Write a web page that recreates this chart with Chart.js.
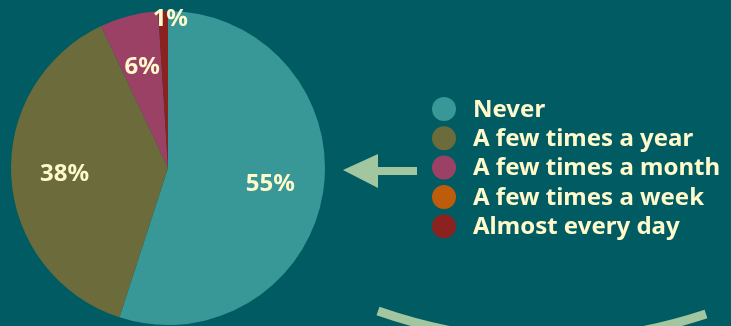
<!DOCTYPE html>
<html>
<head>
<meta charset="utf-8">
<script src="https://cdn.jsdelivr.net/npm/chart.js@4"></script>
<style>
html, body { margin: 0; padding: 0; background: #005c62; overflow: hidden; }
#wrap { width: 731px; height: 326px; }
</style>
</head>
<body>
<div id="wrap"><canvas id="myChart" width="731" height="326"></canvas></div>
<script>
// how often - pie
var labels = ["Never", "A few times a year", "A few times a month", "A few times a week", "Almost every day"];
var values = [55, 38, 6, 0, 1];
var pctLabels = ["55%", "38%", "6%", "", "1%"];
var sliceColors = ["#389797", "#6b6b3b", "#9b4166", "#bf5c0b", "#8c221f"];

var cream = "#fff9cc";
var sage = "#a2c7a0";
var fontFam = "'Noto Sans', sans-serif";

// percent labels on the slices
var sliceLabels = {
  id: "sliceLabels",
  afterDatasetsDraw: function (chart) {
    var ctx = chart.ctx;
    var meta = chart.getDatasetMeta(0);
    ctx.save();
    ctx.fillStyle = cream;
    ctx.font = "bold 24px " + fontFam;
    ctx.textAlign = "center";
    ctx.textBaseline = "middle";
    meta.data.forEach(function (arc, i) {
      if (!pctLabels[i]) return;
      var p = arc.getProps(["x", "y", "startAngle", "endAngle", "outerRadius"], true);
      var mid = (p.startAngle + p.endAngle) / 2;
      var r = p.outerRadius * 0.66;
      var dx = 0;
      if (values[i] < 3) { r = p.outerRadius * 0.95; dx = 7; }
      ctx.fillText(pctLabels[i], p.x + Math.cos(mid) * r + dx, p.y + Math.sin(mid) * r);
    });
    ctx.restore();
  }
};

// legend, arrow and the curve at the bottom
var sideStuff = {
  id: "sideStuff",
  afterDraw: function (chart) {
    var ctx = chart.ctx;
    ctx.save();
    ctx.font = "bold 24px " + fontFam;
    ctx.textBaseline = "middle";
    ctx.textAlign = "left";
    labels.forEach(function (lab, i) {
      var cy = 109 + i * 29.3;
      ctx.fillStyle = sliceColors[i];
      ctx.beginPath();
      ctx.arc(444, cy, 12, 0, Math.PI * 2);
      ctx.fill();
      ctx.fillStyle = cream;
      ctx.fillText(lab, 473, cy + 1);
    });

    ctx.fillStyle = sage;
    ctx.beginPath();
    ctx.moveTo(343, 170);
    ctx.lineTo(378, 154);
    ctx.lineTo(378, 167);
    ctx.lineTo(417, 167);
    ctx.lineTo(417, 175);
    ctx.lineTo(378, 175);
    ctx.lineTo(378, 188);
    ctx.closePath();
    ctx.fill();

    ctx.strokeStyle = sage;
    ctx.lineWidth = 9;
    ctx.beginPath();
    ctx.moveTo(378, 311);
    ctx.quadraticCurveTo(542, 368, 706, 314);
    ctx.stroke();
    ctx.restore();
  }
};

new Chart("myChart", {
  type: "pie",
  data: {
    labels: labels,
    datasets: [{
      data: values,
      backgroundColor: sliceColors,
      borderWidth: 0
    }]
  },
  options: {
    responsive: false,
    animation: false,
    layout: { padding: { left: 11, right: 406, top: 11, bottom: 1 } },
    plugins: {
      legend: { display: false },
      tooltip: { enabled: false }
    }
  },
  plugins: [sliceLabels, sideStuff]
});
</script>
</body>
</html>
